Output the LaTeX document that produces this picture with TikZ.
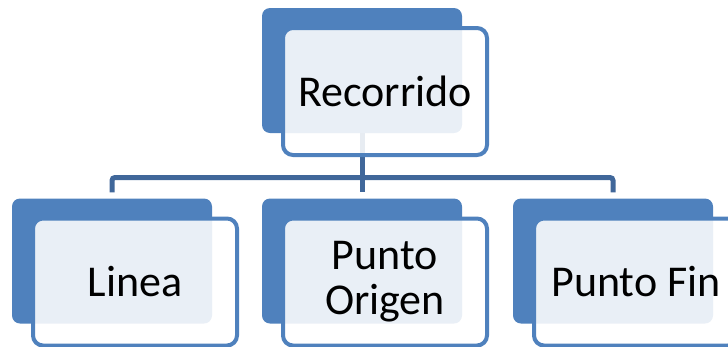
\documentclass[tikz,border=0pt]{standalone}
\usepackage{fontspec}
\setmainfont{Carlito}
\usepackage{tikz}
\usetikzlibrary{positioning, calc}
\definecolor{fondo}{RGB}{79,129,189}
\definecolor{conecta}{RGB}{64,103,154}

\begin{document}
\begin{tikzpicture}[x=1pt, y=-1pt,
  atras/.style={rectangle, rounded corners=8pt, fill=fondo, inner sep=0pt,
    minimum width=200pt, minimum height=125pt},
  frente/.style={rectangle, rounded corners=10pt, draw=fondo, line width=4pt,
    fill=white, fill opacity=0.88, text opacity=1, inner sep=0pt, align=center,
    minimum width=204pt, minimum height=127pt,
    font=\fontsize{44}{45}\selectfont},
  conn/.style={draw=conecta, line width=5pt, rounded corners=3pt}]

  % Marco
  \useasboundingbox (0,0) rectangle (728,346);
  \clip (0,0) rectangle (728,346);

  % Cajas de fondo
  \node[atras] (rec-back) at (362,70.5) {};
  \node[atras] (lin-back) at (112,261) {};
  \node[atras] (ori-back) at (362,261) {};
  \node[atras] (fin-back) at (613,261) {};

  % Conectores
  \coordinate (bar) at (362,177.5);
  \path[conn] ([yshift=6pt]lin-back.north) |- (bar) -| ([yshift=6pt]fin-back.north);
  \path[conn] (rec-back.south) -- ([yshift=6pt]ori-back.north);

  % Cajas de texto
  \node[frente] (rec) at ([shift={(23pt,-21pt)}]rec-back.center) {Recorrido};
  \node[frente] (lin) at ([shift={(23pt,-21pt)}]lin-back.center) {Linea};
  \node[frente] (ori) at ([shift={(23pt,-21pt)}]ori-back.center) {Punto\\Origen};
  \node[frente] (fin) at ([shift={(23pt,-21pt)}]fin-back.center) {Punto Fin};
\end{tikzpicture}
\end{document}
